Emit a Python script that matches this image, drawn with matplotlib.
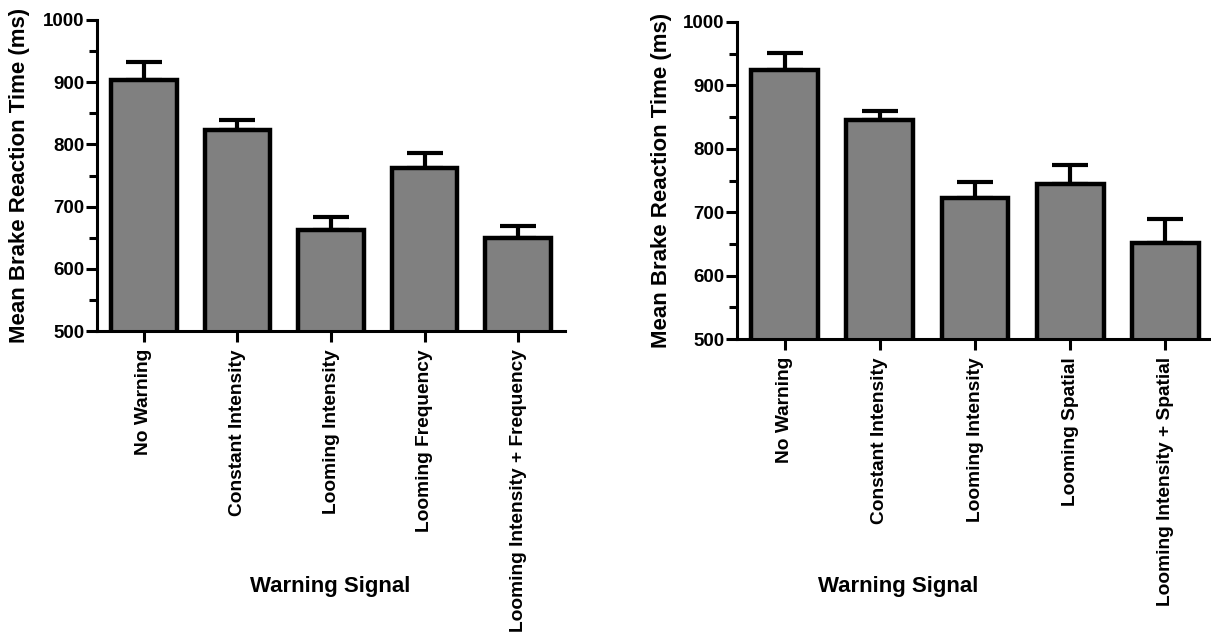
import matplotlib.pyplot as plt
import numpy as np

plt.rcParams['font.family'] = ['Liberation Sans', 'DejaVu Sans']
plt.rcParams['font.weight'] = 'bold'

# left panel: intensity / frequency
labels_a = ["No Warning", "Constant Intensity", "Looming Intensity",
            "Looming Frequency", "Looming Intensity + Frequency"]
means_a = [903, 823, 662, 762, 650]
caps_a = [932, 839, 684, 786, 669]

# right panel: intensity / spatial
labels_b = ["No Warning", "Constant Intensity", "Looming Intensity",
            "Looming Spatial", "Looming Intensity + Spatial"]
means_b = [924, 845, 722, 745, 652]
caps_b = [951, 859, 748, 775, 690]

W, H = 1211, 634
fig = plt.figure(figsize=(W / 100, H / 100), dpi=100)

def panel(rect, labels, means, caps, xlab_pos, ylab_pos):
    ax = fig.add_axes(rect)
    x = np.arange(len(labels))
    err = np.array(caps) - np.array(means)
    ax.bar(x, means, width=0.7, bottom=0, color='#808080', edgecolor='black',
           linewidth=3.2, zorder=2)
    ax.errorbar(x, means, yerr=[np.zeros_like(err), err], fmt='none',
                ecolor='black', elinewidth=3, capsize=13, capthick=3, zorder=1)
    ax.set_ylim(500, 1000)
    ax.set_xlim(-0.5, 4.5)
    ax.set_yticks([500, 600, 700, 800, 900, 1000])
    ax.set_yticks(np.arange(550, 1000, 100), minor=True)
    ax.set_xticks(x)
    ax.set_xticklabels(labels, rotation=90, fontsize=13.8, fontweight='bold')
    for lab in ax.get_yticklabels():
        lab.set_fontsize(13.5)
        lab.set_fontweight('bold')
    ax.tick_params(axis='both', which='major', width=2.2, length=8, direction='out', pad=1)
    ax.tick_params(axis='y', which='minor', width=2.2, length=6)
    ax.tick_params(axis='x', pad=5)
    for s in ['top', 'right']:
        ax.spines[s].set_visible(False)
    for s in ['left', 'bottom']:
        ax.spines[s].set_linewidth(2.2)
    ax.set_xlabel("Warning Signal", fontsize=16, fontweight='bold')
    ax.set_ylabel("Mean Brake Reaction Time (ms)", fontsize=16, fontweight='bold')
    ax.xaxis.set_label_coords(*xlab_pos)
    ax.yaxis.set_label_coords(*ylab_pos)
    return ax

panel([97 / W, 1 - 331 / H, 468 / W, 311 / H], labels_a, means_a, caps_a,
      (0.498, -0.788), (-0.143, 0.5))
panel([737 / W, 1 - 339 / H, 476 / W, 317 / H], labels_b, means_b, caps_b,
      (0.338, -0.748), (-0.137, 0.5))

fig.savefig('out.png', dpi=100)
